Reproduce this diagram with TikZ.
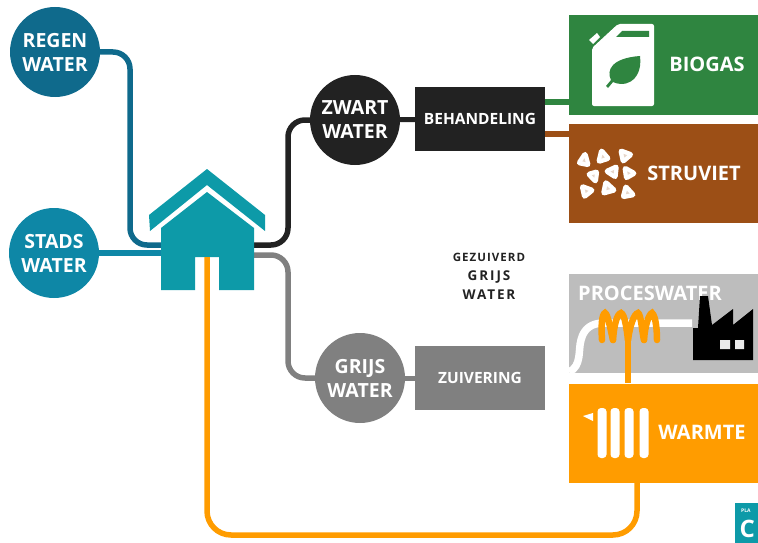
\documentclass[tikz,border=0pt]{standalone}
\usepackage{fontspec}
\setmainfont{Open Sans}
\usetikzlibrary{backgrounds}
\definecolor{regen}{HTML}{0F6A8C}
\definecolor{stads}{HTML}{0E87A6}
\definecolor{huis}{HTML}{0D9AA8}
\definecolor{zwart}{HTML}{222222}
\definecolor{grijs}{HTML}{808080}
\definecolor{groen}{HTML}{2F8540}
\definecolor{bruin}{HTML}{9C4F16}
\definecolor{oranje}{HTML}{FF9C00}
\definecolor{licht}{HTML}{BDBDBD}
\definecolor{kernkleur}{HTML}{E6D6CA}
\newcommand{\kiezelvorm}[6]{%
  \fill[white,draw=white,line width=5.5pt,line join=round] (#1,#2) -- (#3,#4) -- (#5,#6) -- cycle;
  \pgfmathsetmacro{\cx}{(#1+#3+#5)/3}\pgfmathsetmacro{\cy}{(#2+#4+#6)/3}
  \fill[kernkleur] ({\cx+0.4*(#1-\cx)},{\cy+0.4*(#2-\cy)}) -- ({\cx+0.4*(#3-\cx)},{\cy+0.4*(#4-\cy)}) -- ({\cx+0.4*(#5-\cx)},{\cy+0.4*(#6-\cy)}) -- cycle;
}
\newfontfamily\spaceda[LetterSpace=9]{Open Sans}
\newfontfamily\spacedb[LetterSpace=14]{Open Sans}
\tikzset{
  x=1pt,y=-1pt,
  lbl/.style={text=white,font=\fontsize{19.5}{24}\selectfont\bfseries,align=center},
  blob/.style={circle,minimum size=90pt,inner sep=0pt,lbl},
  proc/.style={rectangle,minimum width=130pt,minimum height=64pt,inner sep=0pt,text=white,font=\fontsize{15.5}{18}\selectfont\bfseries},
  band/.style={rectangle,minimum width=189pt,minimum height=99pt,inner sep=0pt},
  pipe/.style={line width=5.5pt,rounded corners=17pt},
  caption/.style={text=white,font=\fontsize{20}{24}\selectfont\bfseries,inner sep=0pt},
}
\begin{document}
\begin{tikzpicture}
\useasboundingbox (0,0) rectangle (758,543);
% circles
\node[blob,fill=regen] (regenw) at (55,52) {REGEN\\WATER};
\node[blob,fill=stads] (stadsw) at (54,253) {STADS\\WATER};
\node[blob,fill=zwart] (zwartw) at (355,120) {ZWART\\WATER};
\node[blob,fill=grijs] (grijsw) at (360,378) {GRIJS\\WATER};
% treatment
\node[proc,fill=zwart] (beh) at (480,119) {BEHANDELING};
\node[proc,fill=grijs] (zui) at (480,378) {ZUIVERING};
% bands
\node[band,fill=groen] (bio) at (663.5,65) {};
\node[band,fill=bruin] (stru) at (663.5,173.5) {};
\node[band,fill=licht] (proc) at (663.5,323) {};
\node[band,fill=oranje] (warm) at (663.5,433) {};
\node[caption] (tbio) at (707,64) {BIOGAS};
\node[caption] (tstru) at (694,173) {STRUVIET};
\node[caption] (twarm) at (702,432) {WARMTE};
\node[caption,anchor=west] (tproc) at (578,293) {PROCESWATER};
% house
\node[minimum width=93pt,minimum height=62pt,inner sep=0pt] (huisn) at (207.5,259) {};
\fill[huis] (161,228) -- (207,192) -- (254,228) -- (254,290) -- (219,290) -- (219,257) -- (195,257) -- (195,290) -- (161,290) -- cycle;
\fill[huis] (207,169) -- (265,215) -- (265,231) -- (207,185) -- (150,231) -- (149,215) -- cycle;
% text
\node[align=center,text=zwart,inner sep=0pt,font=\fontsize{12}{19}\selectfont] (gez) at (489,276) {{\spaceda\bfseries\fontsize{11.5}{19}\selectfont GEZUIVERD}\\{\spacedb\bfseries\fontsize{13.5}{19}\selectfont GRIJS}\\{\spacedb\bfseries\fontsize{13.5}{19}\selectfont WATER}};
% connectors
\coordinate (a1) at (130,52); \coordinate (a2) at (130,245);
\coordinate (b1) at (288,245); \coordinate (b2) at (288,120);
\coordinate (c1) at (288,255); \coordinate (c2) at (288,378);
\coordinate (d1) at (207,535); \coordinate (d2) at (637,535);
\coordinate (d0) at (207,257); \coordinate (d3) at (637,483);
\coordinate (e0) at (628,322); \coordinate (e1) at (628,383);
\coordinate (g1) at (545,102); \coordinate (g2) at (569,102);
\coordinate (h1) at (545,134); \coordinate (h2) at (569,134);
\begin{scope}[on background layer]
\draw[pipe,regen] (regenw.center) -- (a1) -- (a2) -- (161,245);
\draw[line width=5.5pt,stads] (stadsw.center) -- (huisn.center|-stadsw.center);
\draw[pipe,zwart] (254,245) -- (b1) -- (b2) -- (zwartw.center);
\draw[pipe,grijs] (254,255) -- (c1) -- (c2) -- (grijsw.center);
\draw[line width=5pt,zwart] (zwartw.center) -- (beh.center);
\draw[line width=5pt,grijs] (grijsw.center) -- (zui.center);
\draw[line width=6pt,groen] (g1) -- (g2);
\draw[line width=6pt,bruin] (h1) -- (h2);
\end{scope}
\draw[pipe,oranje,rounded corners=24pt] (d0) -- (d1) -- (d2) -- (d3);
% proces water pipe
\draw[white,line width=7.5pt] (569,372) .. controls (582,366) and (578,350) .. (581,340) .. controls (584,328) and (592,323) .. (604,323) -- (692,323);
% coil
\draw[oranje,line width=6pt] (e0) -- (e1);
\begin{scope}[line width=6.5pt,line cap=round]
\draw[oranje] (602,340) .. controls (601,325) and (602,314) .. (605,313)
  .. controls (608,314) and (611,332) .. (613,340);
\draw[oranje] (613,340) .. controls (614,325) and (617,314) .. (621,313)
  .. controls (625,314) and (627,332) .. (628,340);
\draw[oranje] (628,340) .. controls (630,325) and (634,314) .. (638,313)
  .. controls (641,314) and (642,332) .. (644,340);
\draw[oranje] (644,340) .. controls (645,325) and (649,314) .. (652,313)
  .. controls (656,316) and (657,332) .. (657,340);
\end{scope}
% factory
\fill[black] (700,296) -- (708,296) -- (712,325) -- (733,309) -- (733,325) -- (753,309) -- (753,360) -- (693,360) -- (693,328) -- (698,328) -- cycle;
\fill[licht!30] (720,340) rectangle (730,349) (735,340) rectangle (744,349);
% jerrycan
\fill[white,rounded corners=2pt] (618,24) -- (654,24) -- (654,106) -- (592,106) -- (592,48) -- cycle;
\fill[white] (589,40) -- (597,33) -- (600,37) -- (593,44) -- cycle;
\fill[groen] (622,31) -- (649,31) -- (649,37) -- (616,37) -- cycle;
\fill[groen] (640,56) .. controls (642,70) and (636,84) .. (621,84) .. controls (618,84) and (615,83) .. (613,82) -- (608,88) -- (606,86) -- (611,80) .. controls (606,70) and (612,58) .. (640,56) -- cycle;
% stones
\begin{scope}[shift={(570,140)},x=0.3333pt,y=-0.3333pt]
\kiezelvorm{45}{44}{29}{68}{53}{73}
\kiezelvorm{95}{34}{113}{55}{88}{63}
\kiezelvorm{154}{34}{181}{44}{160}{62}
\kiezelvorm{58}{103}{79}{97}{76}{122}
\kiezelvorm{112}{94}{138}{82}{135}{109}
\kiezelvorm{166}{86}{191}{100}{170}{112}
\kiezelvorm{38}{141}{65}{151}{44}{168}
\kiezelvorm{108}{129}{131}{150}{102}{158}
\kiezelvorm{168}{142}{188}{164}{161}{169}
\end{scope}
% radiator
\foreach \x in {602,615,629,644}{
  \fill[white,rounded corners=3.5pt] (\x-4.5,408) rectangle (\x+4.5,458);
}
\fill[white] (583,416) -- (593,413) -- (593,421) -- cycle;
% logo
\fill[huis] (735,503) rectangle (758,543);
\node[text=white,font=\fontsize{5}{5}\selectfont\bfseries,anchor=west,inner sep=0pt] (plan) at (741,511) {PLA};
\node[text=white,font=\fontsize{24}{24}\selectfont\bfseries,anchor=west,inner sep=0pt] (clogo) at (739.5,529) {C};
\end{tikzpicture}
\end{document}
